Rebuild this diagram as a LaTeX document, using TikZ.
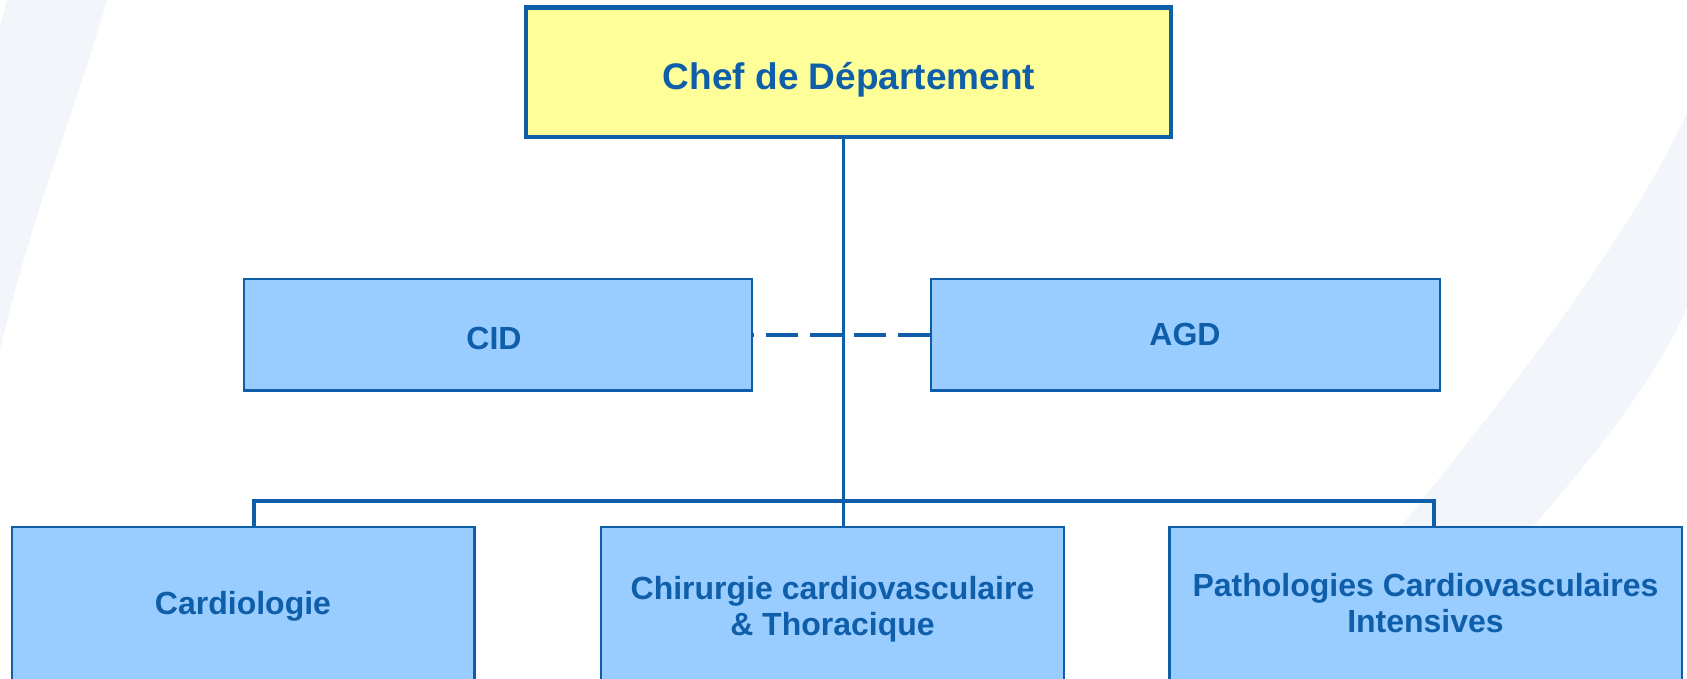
\documentclass[tikz,border=0pt]{standalone}
\usepackage{fontspec}
\setmainfont{Liberation Sans}
\definecolor{dkblue}{HTML}{0E5EAA}
\definecolor{ltblue}{HTML}{99CCFF}
\definecolor{ylw}{HTML}{FFFF99}
\definecolor{bandc}{HTML}{F2F5FA}
\begin{document}
\begin{tikzpicture}[x=1pt,y=-1pt,
  box/.style={draw=dkblue, fill=ltblue, line width=2.5pt, inner sep=0pt},
  chefbox/.style={box, fill=ylw, line width=4.5pt},
  txt/.style={text=dkblue, font=\bfseries\fontsize{32}{35.5}\selectfont, align=center, inner sep=0pt},
  cheftxt/.style={txt, font=\bfseries\fontsize{37}{40}\selectfont},
  conn/.style={draw=dkblue, line width=3.5pt},
  dashconn/.style={conn, dash pattern=on 32pt off 12pt}]
\clip (0,0) rectangle (1687,679);
\fill[white] (0,0) rectangle (1687,679);
% background bands
\fill[bandc] (7,0) -- (107,0) .. controls (75,110) and (30,220) .. (0,350) -- (0,27) -- cycle;
\fill[bandc] (1687,113) .. controls (1600,300) and (1400,520) .. (1280,679)
  -- (1400,679) .. controls (1500,560) and (1640,420) .. (1687,307) -- cycle;
% boxes
\node[chefbox, minimum width=645pt, minimum height=129.5pt] (chef) at (848.5,72.25) {};
\node[box, minimum width=508pt, minimum height=111.5pt] (cid) at (498,334.75) {};
\node[box, minimum width=509pt, minimum height=111.5pt] (agd) at (1185.5,334.75) {};
\node[box, minimum width=462.5pt, minimum height=153pt] (card) at (243.25,603.5) {};
\node[box, minimum width=463pt, minimum height=153pt] (chir) at (832.5,603.5) {};
\node[box, minimum width=512.5pt, minimum height=153pt] (path) at (1425.75,603.5) {};
% texts
\node[cheftxt] (chefT) at (849,79.5) {Chef de Département};
\node[txt] (cidT) at (494,338) {CID};
\node[txt] (agdT) at (1185,334) {AGD};
\node[txt] (cardT) at (243,606) {Cardiologie};
\node[txt] (chirT) at (832.5,609) {Chirurgie cardiovasculaire\\\& Thoracique};
\node[txt] (pathT) at (1425.5,603) {Pathologies Cardiovasculaires\\Intensives};
% attachment points
\coordinate (m) at (843.5,527);
\coordinate (cd) at (254,527);
\coordinate (pd) at (1434,527);
% connectors
\draw[conn] (chef.south -| m) -- (m);
\draw[conn] (cd) -- ++(0,-26) -| (pd);
\draw[dashconn] (agd.west) -- (cid.east);
\end{tikzpicture}
\end{document}
